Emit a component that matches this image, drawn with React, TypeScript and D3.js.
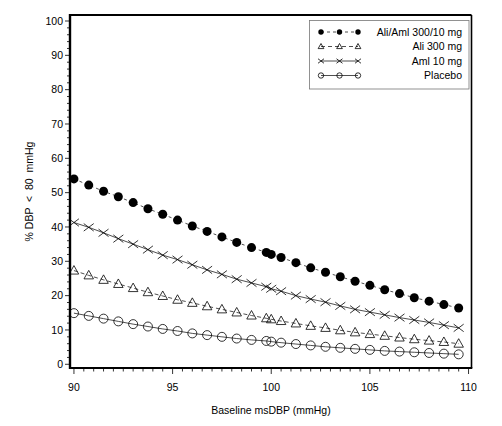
import React from "react";
import * as d3 from "d3";

const baseline = [90, 90.75, 91.5, 92.25, 93, 93.75, 94.5, 95.25, 96, 96.75, 97.5, 98.25, 99, 99.75, 100, 100.5, 101.25, 102, 102.75, 103.5, 104.25, 105, 105.75, 106.5, 107.25, 108, 108.75, 109.5];

const aliAml = [54.0, 52.2, 50.4, 48.8, 47.1, 45.3, 43.7, 42.0, 40.3, 38.7, 37.1, 35.5, 34.0, 32.6, 32.0, 31.1, 29.6, 28.1, 26.8, 25.5, 24.2, 23.0, 21.7, 20.6, 19.4, 18.4, 17.4, 16.4];
const ali300 = [27.3, 25.9, 24.6, 23.4, 22.2, 21.0, 19.9, 18.8, 17.9, 16.9, 16.0, 15.1, 14.2, 13.4, 13.1, 12.6, 11.9, 11.2, 10.6, 9.9, 9.3, 8.8, 8.3, 7.8, 7.3, 6.9, 6.5, 6.0];
const aml10 = [41.3, 39.9, 38.3, 36.6, 35.0, 33.4, 31.8, 30.5, 29.0, 27.5, 26.2, 24.8, 23.7, 22.6, 22.0, 21.3, 20.0, 19.0, 18.1, 17.0, 16.0, 15.2, 14.4, 13.6, 12.9, 12.2, 11.4, 10.6];
const placebo = [14.9, 14.1, 13.3, 12.5, 11.7, 11.0, 10.3, 9.7, 9.0, 8.5, 8.0, 7.5, 7.1, 6.8, 6.6, 6.3, 5.9, 5.5, 5.1, 4.8, 4.5, 4.2, 3.9, 3.7, 3.5, 3.3, 3.1, 2.9];

const seriesNames = ["Ali/Aml 300/10 mg", "Ali 300 mg", "Aml 10 mg", "Placebo"];
const seriesMarkers = ["filled", "triangle", "cross", "circle"];
const seriesDash = ["3,3", "4,3", "", ""];

const xTicks = [90, 95, 100, 105, 110];
const yTicks = [0, 10, 20, 30, 40, 50, 60, 70, 80, 90, 100];

const xLabel = "Baseline msDBP (mmHg)";
const yLabel = "% DBP  <  80  mmHg";

const FONT = "'Liberation Sans', Arial, Helvetica, sans-serif";

function Marker({ type, x, y, s = 1 }: { type: string; x: number; y: number; s?: number }) {
  if (type === "filled") return <circle cx={x} cy={y} r={4.5 * s} fill="#000" />;
  if (type === "circle") return <circle cx={x} cy={y} r={4.5 * s} fill="none" stroke="#000" strokeWidth={0.8} />;
  if (type === "triangle") {
    const r = 5 * s;
    const p = `${x},${y - r} ${x - r * 0.95},${y + r * 0.7} ${x + r * 0.95},${y + r * 0.7}`;
    return <polygon points={p} fill="none" stroke="#000" strokeWidth={0.8} />;
  }
  const r = 5 * s;
  return (
    <path
      d={`M${x - r},${y - r * 0.75}L${x + r},${y + r * 0.75}M${x - r},${y + r * 0.75}L${x + r},${y - r * 0.75}`}
      stroke="#000"
      strokeWidth={0.8}
      fill="none"
    />
  );
}

export default function App() {
  const left = 70, right = 471.5, top = 15, bottom = 368;
  const x = d3.scaleLinear().domain([89.8, 110.15]).range([left, right]);
  const y = d3.scaleLinear().domain([-1.08, 101.75]).range([bottom, top]);
  const all = [aliAml, ali300, aml10, placebo];
  const line = d3
    .line<number>()
    .x((_, i) => x(baseline[i]))
    .y((d) => y(d));

  const xMinor = d3.range(90, 110.01, 0.5);
  const yMinor = d3.range(0, 100.01, 2);

  const legY = [32, 46.5, 61, 75.5];

  return (
    <svg
      width={502}
      height={426}
      style={{ position: "absolute", left: 0, top: 0, background: "#fff" }}
      fontFamily={FONT}
    >
      <rect x={0} y={0} width={502} height={426} fill="#fff" />
      {/* series lines */}
      {all.map((vals, si) => (
        <path
          key={"l" + si}
          d={line(vals) || ""}
          fill="none"
          stroke="#222"
          strokeWidth={0.8}
          strokeDasharray={seriesDash[si] || undefined}
        />
      ))}
      {/* markers */}
      {all.map((vals, si) =>
        vals.map((v, i) => (
          <Marker key={`m${si}-${i}`} type={seriesMarkers[si]} x={x(baseline[i])} y={y(v)} />
        ))
      )}
      {/* frame */}
      <line x1={left} y1={top} x2={right} y2={top} stroke="#000" strokeWidth={2} />
      <line x1={right} y1={top} x2={right} y2={bottom} stroke="#000" strokeWidth={1.6} />
      <line x1={left} y1={top - 1} x2={left} y2={bottom + 1} stroke="#000" strokeWidth={2.4} />
      <line x1={left - 1} y1={bottom} x2={right + 0.8} y2={bottom} stroke="#000" strokeWidth={2.2} />
      {/* x ticks */}
      {xMinor.map((t) => (
        <line key={"xm" + t} x1={x(t)} x2={x(t)} y1={bottom} y2={bottom + (t % 5 === 0 ? 6 : 3.5)} stroke="#000" strokeWidth={0.8} />
      ))}
      {xTicks.map((t) => (
        <text key={"xt" + t} x={x(t)} y={391} fontSize={10.5} textAnchor="middle" fill="#000">
          {t}
        </text>
      ))}
      {/* y ticks */}
      {yMinor.map((t) => (
        <line key={"ym" + t} x1={left} x2={left - (t % 10 === 0 ? 5 : 3)} y1={y(t)} y2={y(t)} stroke="#000" strokeWidth={0.8} />
      ))}
      {yTicks.map((t) => (
        <text key={"yt" + t} x={63} y={y(t) + 3.8} fontSize={10.5} textAnchor="end" fill="#000">
          {t}
        </text>
      ))}
      {/* axis labels */}
      <text x={271} y={414} fontSize={10.5} textAnchor="middle" fill="#000">
        {xLabel}
      </text>
      <text
        transform={`translate(33,${(top + bottom) / 2}) rotate(-90)`}
        fontSize={10.5}
        textAnchor="middle"
        fill="#000"
        style={{ whiteSpace: "pre" }}
      >
        {yLabel}
      </text>
      {/* legend */}
      <rect x={309.5} y={20.5} width={159.5} height={68.5} fill="#fff" stroke="#777" strokeWidth={0.8} />
      {seriesNames.map((name, si) => (
        <g key={"lg" + si}>
          <line x1={321} x2={358} y1={legY[si]} y2={legY[si]} stroke="#222" strokeWidth={0.8} strokeDasharray={seriesDash[si] || undefined} />
          {[321, 339.5, 358].map((mx) => (
            <Marker key={"lm" + mx} type={seriesMarkers[si]} x={mx} y={legY[si]} s={0.6} />
          ))}
          <text x={462} y={legY[si] + 3.8} fontSize={10.5} textAnchor="end" fill="#000">
            {name}
          </text>
        </g>
      ))}
    </svg>
  );
}
